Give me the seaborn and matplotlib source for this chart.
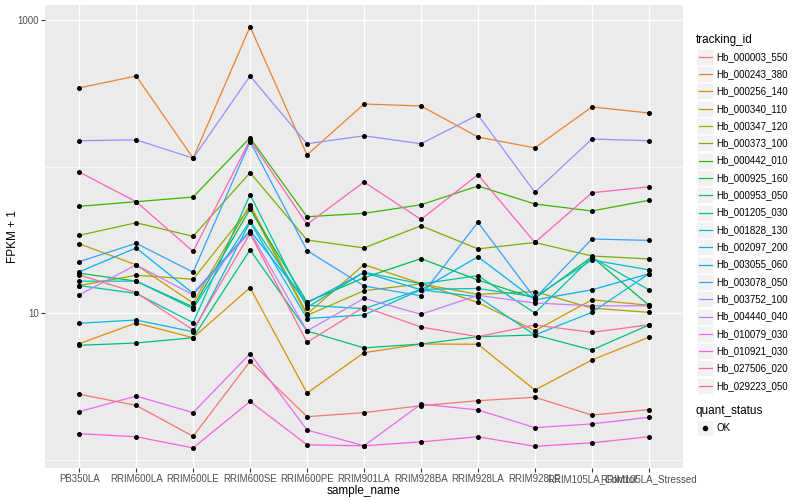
import numpy as np
import pandas as pd
import matplotlib
matplotlib.use("Agg")
import matplotlib.pyplot as plt
from matplotlib.lines import Line2D
from matplotlib.patches import Rectangle
import seaborn as sns

samples = ['PB350LA', 'RRIM600LA', 'RRIM600LE', 'RRIM600SE', 'RRIM600PE', 'RRIM901LA',
           'RRIM928BA', 'RRIM928LA', 'RRIM928LE', 'RRIM105LA_Control', 'RRIM105LA_Stressed']

tracking_ids = ['Hb_000003_550', 'Hb_000243_380', 'Hb_000256_140', 'Hb_000340_110',
                'Hb_000347_120', 'Hb_000373_100', 'Hb_000442_010', 'Hb_000925_160',
                'Hb_000953_050', 'Hb_001205_030', 'Hb_001828_130', 'Hb_002097_200',
                'Hb_003055_060', 'Hb_003078_050', 'Hb_003752_100', 'Hb_004440_040',
                'Hb_010079_030', 'Hb_010921_030', 'Hb_027506_020', 'Hb_029223_050']

# FPKM + 1 per sample
hb_000003_550 = [2.79, 2.34, 1.44, 4.68, 1.96, 2.09, 2.33, 2.52, 2.66, 2.01, 2.19]
hb_000243_380 = [344, 415, 114, 900, 120, 267, 259, 159, 134, 255, 232]
hb_000256_140 = [6.17, 8.55, 6.78, 14.9, 2.84, 5.36, 6.14, 6.12, 2.98, 4.78, 6.83]
hb_000340_110 = [29.7, 21.3, 11.7, 55.0, 9.85, 21.4, 15.9, 11.8, 7.57, 12.3, 11.3]
hb_000347_120 = [15.4, 18.1, 17.0, 52.5, 9.62, 14.2, 15.8, 13.4, 14.0, 10.8, 10.1]
hb_000373_100 = [33.9, 41.3, 33.4, 90.8, 31.5, 27.8, 39.4, 27.4, 30.3, 24.5, 23.4]
hb_000442_010 = [53.5, 57.5, 61.9, 157, 45.4, 47.9, 54.8, 73.6, 55.5, 49.7, 58.8]
hb_000925_160 = [18.7, 16.5, 11.0, 51.3, 11.9, 17.4, 23.5, 16.8, 12.6, 24.2, 11.3]
hb_000953_050 = [6.02, 6.24, 6.78, 27.0, 7.54, 5.78, 6.14, 6.89, 7.08, 5.59, 8.28]
hb_001205_030 = [15.4, 13.6, 8.59, 64.2, 10.9, 19.0, 15.8, 18.0, 10.0, 24.0, 14.4]
hb_001828_130 = [16.5, 16.5, 10.7, 42.6, 11.3, 10.7, 14.5, 14.7, 12.9, 23.0, 19.7]
hb_002097_200 = [8.51, 8.96, 7.45, 41.7, 9.17, 9.69, 14.4, 12.9, 7.08, 10.1, 18.5]
hb_003055_060 = [19.1, 27.8, 13.6, 36.5, 11.7, 18.9, 14.4, 24.2, 12.3, 14.4, 18.5]
hb_003078_050 = [22.4, 29.9, 19.0, 148, 26.7, 15.3, 13.1, 41.6, 12.6, 32.0, 31.3]
hb_003752_100 = [150, 152, 114, 415, 143, 162, 143, 225, 66.7, 154, 150]
hb_004440_040 = [13.3, 21.3, 13.3, 35.7, 7.54, 12.6, 9.80, 13.2, 11.7, 11.2, 11.2]
hb_010079_030 = [2.12, 2.71, 2.09, 5.28, 1.59, 1.24, 2.39, 2.18, 1.65, 1.75, 1.94]
hb_010921_030 = [1.50, 1.43, 1.20, 2.49, 1.26, 1.24, 1.32, 1.43, 1.23, 1.30, 1.43]
hb_027506_020 = [91.7, 57.5, 26.3, 152, 40.3, 78.4, 43.5, 87.9, 30.3, 66.2, 72.6]
hb_029223_050 = [18.2, 13.8, 7.65, 34.9, 6.31, 11.0, 8.02, 6.89, 8.28, 7.38, 8.30]

series = [hb_000003_550, hb_000243_380, hb_000256_140, hb_000340_110, hb_000347_120,
          hb_000373_100, hb_000442_010, hb_000925_160, hb_000953_050, hb_001205_030,
          hb_001828_130, hb_002097_200, hb_003055_060, hb_003078_050, hb_003752_100,
          hb_004440_040, hb_010079_030, hb_010921_030, hb_027506_020, hb_029223_050]

# ggplot default hue palette for 20 levels
colors = ["#F8766D", "#EA8331", "#D89000", "#C09B00", "#A3A500", "#7CAE00", "#39B600",
          "#00BB4E", "#00BF7D", "#00C1A3", "#00BFC4", "#00BAE0", "#00B0F6", "#35A2FF",
          "#9590FF", "#C77CFF", "#E76BF3", "#FA62DB", "#FF62BC", "#FF6C91"]

rows = []
for tid, vals in zip(tracking_ids, series):
    for s, v in zip(samples, vals):
        rows.append({'tracking_id': tid, 'sample_name': s, 'fpkm': v, 'quant_status': 'OK'})
df = pd.DataFrame(rows)
df['x'] = df['sample_name'].map({s: i for i, s in enumerate(samples)})

plt.rcParams['font.family'] = ['Liberation Sans', 'DejaVu Sans']
fig = plt.figure(figsize=(8, 5), dpi=100)
ax = fig.add_axes([45 / 800, 1 - 468 / 500, 638 / 800, 463 / 500])
ax.set_facecolor('#EBEBEB')
for sp in ax.spines.values():
    sp.set_visible(False)

sns.lineplot(data=df, x='x', y='fpkm', hue='tracking_id', hue_order=tracking_ids,
             palette=dict(zip(tracking_ids, colors)), sort=False, errorbar=None,
             estimator=None, linewidth=0.9, legend=False, ax=ax, zorder=3)
sns.scatterplot(data=df, x='x', y='fpkm', color='black', s=13, linewidth=0,
                legend=False, ax=ax, zorder=4)

ax.set_yscale('log')
ax.set_ylim(0.875, 1266)
ax.set_xlim(-0.6, len(samples) - 0.4)
ax.set_yticks([10, 1000])
ax.set_yticklabels(['10', '1000'])
ax.set_yticks([1, 100], minor=True)
ax.yaxis.set_minor_formatter(matplotlib.ticker.NullFormatter())
ax.set_xticks(range(len(samples)))
ax.set_xticklabels(samples)
ax.tick_params(axis='both', which='major', length=3, width=0.8, color='#333333',
               labelcolor='#4D4D4D', labelsize=7, pad=1.5)
ax.tick_params(axis='y', which='minor', length=0)
ax.grid(True, which='major', color='white', linewidth=1.0)
ax.grid(True, which='minor', axis='y', color='white', linewidth=0.5)
ax.set_axisbelow(True)
ax.set_xlabel('sample_name', fontsize=8.5, labelpad=0.5)
ax.set_ylabel('FPKM + 1', fontsize=8.5, labelpad=-1)

# legend, ggplot style
fig.text(696 / 800, 1 - 40.5 / 500, 'tracking_id', fontsize=8.5, va='center', ha='left')
for i, (tid, col) in enumerate(zip(tracking_ids, colors)):
    yc = 56.7 + i * 17.32
    fig.patches.append(Rectangle((697 / 800, 1 - (yc + 8) / 500), 16 / 800, 16 / 500,
                                 transform=fig.transFigure, facecolor='#F2F2F2',
                                 edgecolor='white', linewidth=0.5))
    fig.lines.append(Line2D([698.5 / 800, 711.5 / 800], [1 - yc / 500, 1 - yc / 500],
                            transform=fig.transFigure, color=col, linewidth=0.9))
    fig.text(716.5 / 800, 1 - yc / 500, tid, fontsize=7, va='center', ha='left')

fig.text(696 / 800, 1 - 411 / 500, 'quant_status', fontsize=8.5, va='center', ha='left')
fig.patches.append(Rectangle((697 / 800, 1 - 436 / 500), 16 / 800, 16 / 500,
                             transform=fig.transFigure, facecolor='#F2F2F2',
                             edgecolor='white', linewidth=0.5))
fig.lines.append(Line2D([705 / 800], [1 - 428 / 500], transform=fig.transFigure,
                        marker='o', markersize=3, color='black', linestyle='none'))
fig.text(716.5 / 800, 1 - 428 / 500, 'OK', fontsize=7, va='center', ha='left')

fig.savefig('out.png', dpi=100)
